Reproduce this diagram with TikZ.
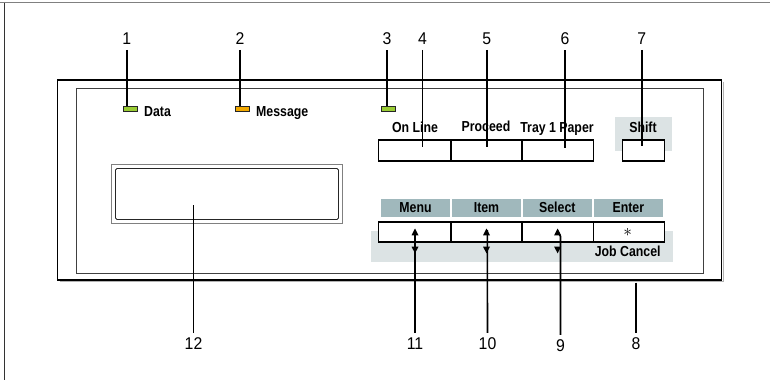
\documentclass[tikz,border=0pt]{standalone}
\usepackage{fontspec}
\setmainfont{Liberation Sans}
\newfontfamily\lblfont[FakeStretch=0.85]{Liberation Sans}
\newfontfamily\numfont[FakeStretch=0.93]{Liberation Sans}
\usetikzlibrary{calc}
\definecolor{ledgreen}{HTML}{99CC33}
\definecolor{ledorange}{HTML}{F2A900}
\definecolor{keyblue}{HTML}{A0B8BC}
\definecolor{bandgray}{HTML}{DCE3E4}
\begin{document}
\begin{tikzpicture}[x=1pt,y=-1pt,
  num/.style={font=\numfont\fontsize{17}{17}\selectfont, inner sep=0pt, outer sep=5pt},
  lbl/.style={font=\lblfont\bfseries\fontsize{14.5}{14.5}\selectfont, inner sep=0pt},
  led/.style={draw=black!85, line width=0.9pt, minimum width=14pt, minimum height=4.5pt, inner sep=0pt},
  keybtn/.style={draw, fill=white, line width=1.6pt, minimum height=20.5pt, inner sep=0pt},
  keylabel/.style={lbl, fill=keyblue, minimum width=69pt, minimum height=17.7pt, text height=10.2pt, text depth=0pt},
  lead/.style={line width=1.6pt}
]
\useasboundingbox (0,0) rectangle (770,380);
% outer frame
\draw[black!50, line width=1.3pt] (0,2.5) -- (770,2.5);
\draw[black!80, line width=0.8pt] (4,2.5) -- (4,380);
% panel
\draw[black!30, line width=1pt] (59.5,281.5) -- (723,281.5) -- (723,81.5);
\node[draw, line width=1.6pt, minimum width=664pt, minimum height=200pt, inner sep=0pt] (panel) at (389.5,180) {};
\draw[black!75, line width=0.8pt] (76.5,88.5) rectangle (703.5,273.5);
% display
\draw[black!50, line width=0.8pt] (111.5,164.5) rectangle (342.5,223.5);
\node[draw=black!85, line width=0.9pt, rounded corners=1.5pt, minimum width=223pt, minimum height=51pt, inner sep=0pt] (disp) at (227,194) {};
% bands
\fill[bandgray] (615,117.3) rectangle (671.7,150.7);
\fill[bandgray] (371,231) rectangle (672.7,261.7);
% LEDs
\node[led, fill=ledgreen] (led1) at (130,109) {};
\node[led, fill=ledorange] (led2) at (242,109) {};
\node[led, fill=ledgreen] (led3) at (388,109) {};
\node[lbl, anchor=base west] (tdata) at (144,116.7) {Data};
\node[lbl, anchor=base west] (tmsg) at (256,116.7) {Message};
% top keys
\node[keybtn, minimum width=72.4pt] (b4) at (414.5,150.5) {};
\node[keybtn, minimum width=71pt] (b5) at (486.2,150.5) {};
\node[keybtn, minimum width=71.6pt] (b6) at (557.5,150.5) {};
\node[keybtn, minimum width=42pt] (b7) at (643.3,150.5) {};
\node[lbl, anchor=base] (t4) at (415,132.5) {On Line};
\node[lbl, anchor=base] (t5) at (486,131.7) {Proceed};
\node[lbl, anchor=base] (t6) at (557,132.5) {Tray 1 Paper};
\node[lbl, anchor=base] (t7) at (643,132.7) {Shift};
% bottom keys
\node[keylabel] (kmenu) at (415.5,207.8) {Menu};
\node[keylabel] (kitem) at (486.5,207.8) {Item};
\node[keylabel] (ksel) at (557.3,207.8) {Select};
\node[keylabel] (kent) at (628.3,207.8) {Enter};
\node[keybtn, minimum width=72.4pt, minimum height=20pt] (b11) at (414.5,231.7) {};
\node[keybtn, minimum width=71.3pt, minimum height=20pt] (b10) at (486.35,231.7) {};
\node[keybtn, minimum width=71.3pt, minimum height=20pt] (b9) at (557.65,231.7) {};
\node[keybtn, minimum width=71pt, minimum height=20pt] (b8key) at (628.8,231.7) {};
\node[inner sep=0pt, font=\fontsize{19}{19}\selectfont] (ast) at (627.7,232.8) {$\ast$};
\node[lbl, anchor=base] (tjob) at (627.7,256.7) {Job Cancel};
% triangles
\foreach \x in {415,486.5,557.6} {
  \fill (\x-3.5,235.3) -- (\x+3.5,235.3) -- (\x,228.5) -- cycle;
  \fill (\x-3.5,246.7) -- (\x+3.5,246.7) -- (\x,253.3) -- cycle;
}
% numbers
\node[num] (n1) at (126.7,39) {1};
\node[num] (n2) at (240,39) {2};
\node[num] (n3) at (387,39) {3};
\node[num] (n4) at (422.5,39) {4};
\node[num] (n5) at (486.7,39) {5};
\node[num] (n6) at (565,39) {6};
\node[num] (n7) at (641.7,39) {7};
\node[num] (n12) at (193.5,344) {12};
\node[num] (n11) at (415,344) {11};
\node[num] (n10) at (487.5,344) {10};
\node[num] (n9) at (560.5,346) {9};
\node[num] (n8) at (636,344) {8};
% leaders
\draw[lead] (n1.south) -- (n1.south |- led1.north);
\draw[lead] (n2.south) -- (n2.south |- led2.north);
\draw[lead] (n3.south) -- (n3.south |- led3.north);
\draw[lead, shorten >=4pt] (n4.south) -- (n4.south |- b4.center);
\draw[lead, shorten >=4pt] (n5.south) -- (n5.south |- b5.center);
\draw[lead, shorten >=3pt] (n6.south) -- (n6.south |- b6.center);
\draw[lead, shorten >=5pt] (n7.south) -- (n7.south |- b7.center);
\coordinate (t12) at (193.5,205);
\draw[lead] (n12.north) -- (t12);
\coordinate (t11) at (415,230);
\draw[lead] (n11.north) -- (t11);
\coordinate (t10) at (487.3,230);
\draw[lead] (n10.north) -- (t10);
\coordinate (j9) at (560.5,236.5);
\coordinate (t9) at (557.6,231);
\draw[lead] (n9.north) -- (j9) -- (t9);
\coordinate (p8) at (636,282.5);
\draw[lead] (p8) -- (n8.north);
\end{tikzpicture}
\end{document}
